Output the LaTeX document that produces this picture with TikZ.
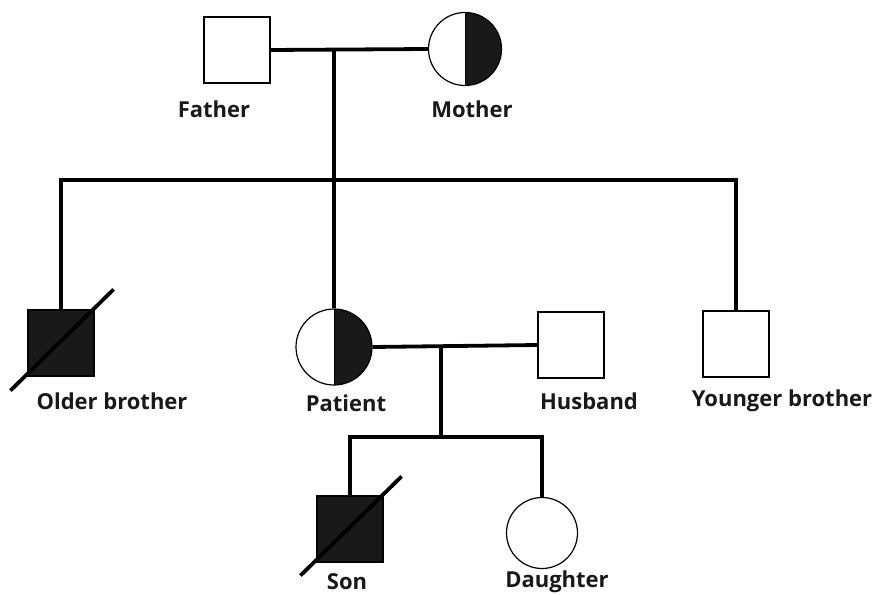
\documentclass[tikz,border=0pt]{standalone}
\usepackage{fontspec}
\setmainfont{Open Sans}
\usetikzlibrary{positioning, calc}

\tikzset{
    male/.style={draw, line width=1.2pt, minimum size=66pt, inner sep=0pt},
    female/.style={draw, line width=1.2pt, circle, minimum size=#1, inner sep=0pt},
    female/.default=73pt,
    halfaff/.style={path picture={\fill[black!90] (path picture bounding box.north) rectangle (path picture bounding box.south east);
        \draw[line width=1pt] (path picture bounding box.north) -- (path picture bounding box.south);}},
    conn/.style={line width=3.8pt},
    slash/.style={line width=3.8pt},
    lbl/.style={font=\bfseries\fontsize{22}{26}\selectfont, text=black!90}
}

\begin{document}
\begin{tikzpicture}[x=1pt, y=-1pt]
    \useasboundingbox (0,0) rectangle (874,594);

    % parents
    \node[male] (father) at (237,50) {};
    \node[female, halfaff] (mother) at (465,49) {};
    \node[lbl] (lfather) at (214,109) {Father};
    \node[lbl] (lmother) at (472,109) {Mother};

    % siblings
    \node[male, fill=black!90] (older) at (61,343) {};
    \node[female=76pt, halfaff] (patient) at (334,347) {};
    \node[male] (husband) at (571,345) {};
    \node[male] (younger) at (736,344) {};
    \node[lbl] (lolder) at (112,401) {Older brother};
    \node[lbl] (lpatient) at (346,403) {Patient};
    \node[lbl] (lhusband) at (589,401) {Husband};
    \node[lbl] (lyounger) at (782,401) {Younger brother};

    % children
    \node[male, fill=black!90] (son) at (350,529) {};
    \node[female=71pt] (daughter) at (542,533) {};
    \node[lbl] (lson) at (347,582) {Son};
    \node[lbl] (ldaughter) at (557,582) {Daughter};

    \coordinate (fm) at (334,50);
    \coordinate (sibs) at (334,180);
    \coordinate (ph) at (441,347);
    \coordinate (kids) at (441,437);

    \draw[conn] (father.east) -- (mother.west);
    \draw[conn] (fm) -- (patient.north);
    \draw[conn] (older.north) |- (sibs) -| (younger.north);
    \draw[conn] (patient.east) -- (husband.west);
    \draw[conn] (ph) -- (kids);
    \draw[conn] (son.north) |- (kids) -| (daughter.north);

    % deceased
    \draw[slash] ($(older.south west)+(-17,14)$) -- ($(older.north east)+(19,-20)$);
    \draw[slash] ($(son.south west)+(-16,13)$) -- ($(son.north east)+(18,-19)$);
\end{tikzpicture}
\end{document}
